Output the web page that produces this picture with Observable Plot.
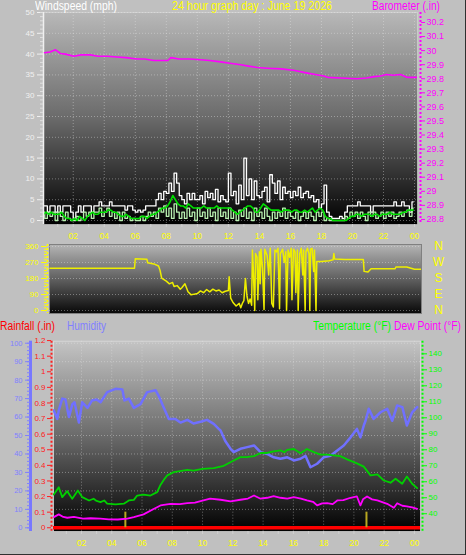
<!DOCTYPE html>
<html><head><meta charset="utf-8">
<script src="https://cdn.jsdelivr.net/npm/d3@7"></script>
<script src="https://cdn.jsdelivr.net/npm/@observablehq/plot@0.6"></script>
<style>
body{margin:0;background:#c0c0c0;}
#root{position:relative;width:466px;height:555px;overflow:hidden;background:#c0c0c0;font-family:"Liberation Sans",Arial,sans-serif;box-shadow:inset -1px -1px 0 #303030;}
.lbl{position:absolute;font-size:12px;line-height:12px;white-space:nowrap;transform-origin:0 0;}
</style></head><body><div id="root"></div>
<script>
// ---------------- DATA ----------------
const hourTicks = [2,4,6,8,10,12,14,16,18,20,22,24];
const hourLabels = ["02","04","06","08","10","12","14","16","18","20","22","00"];
const windTicks = [0,5,10,15,20,25,30,35,40,45,50];
const baroTicks = [28.8,28.9,29,29.1,29.2,29.3,29.4,29.5,29.6,29.7,29.8,29.9,30,30.1,30.2];
const dirTicks = [0,90,180,270,360];
const compassLabels = ["N","E","S","W","N"];
const humTicks = [0,10,20,30,40,50,60,70,80,90,100];
const rainTicks = [0,0.1,0.2,0.3,0.4,0.5,0.6,0.7,0.8,0.9,1,1.1,1.2];
const tempTicks = [40,50,60,70,80,90,100,110,120,130,140];

// wind, one value per 10 minutes (mph)
const windGust = [
3.5,3.5,2,3.5,3.5,2, 3.5,2,3.5,3.5,3.5,2, 0.5,2,3.5,2,3.5,3.5, 3.5,2,3.5,3.5,4.5,3.5,
3.5,3.5,4.5,3.5,3.5,3.5, 3.5,3.5,2.5,3.5,3.5,2.5, 2,2.5,2,2.5,3.5,3.5, 3.5,3.5,5,6.5,5,7,
6.5,9,7,11.4,9,6, 5,4,6.5,5,6.5,5, 5,6,4,7,5.5,6.5, 5,7.5,4.5,6,5,4.5,
11.4,6,7,4,8.5,5, 15,6,10,5,9.5,6, 5.5,7,8,4.5,11,9, 6.5,9.5,5,8,6.5,7,
5.5,7,6,8,5.5,6.5, 7,5.5,6,4.5,5,3, 4,8.5,2,1,0.5,0.5, 0.5,1,0.5,2,3.5,3.5,
3.5,3.5,4.5,3.5,3.5,3.5, 3.5,2,3.5,3.5,3.5,3.5, 3.5,3.5,3.5,3.5,4.5,3.5, 3.5,4.5,3.5,3.5,2,4.5];
const windSpeed = [
2,0.5,2,1,2,0, 2,1,0,2,0.5,0, 0,1,0,0.5,2,1, 2,0.5,2,2,3,1,
2,3,1,2,0.5,2, 0,2,0.5,1,0,0.5, 0,0,1,0,1,2, 1,2,0.5,3,2,3.5,
1,3,0.5,4,2,0.5, 2,0.5,3,1,2,0, 3,1,2,0.5,3,1, 2,0,3,1,2,0.5,
3,0.5,2,0,2.5,1, 3,0.5,2,0,3,1, 2,0.5,3,1,0,2, 0.5,2,1,3,0.5,2,
1,0.5,2,0,1,2, 0.5,2,1,0,2,1, 2,0,0.5,0,0,0, 0,0,0,1,0.5,2,
1,2,0.5,2,1,0, 2,1,2,0.5,1,2, 0.5,2,1,2,0.5,1, 2,1,2,2.5,1,3];
const windAvg = [
1.5,2,1.5,2,1.5,1.5, 1.5,2,1,0.5,0.5,0, 0.5,0,1,0.5,0,1, 1.5,2,1.5,1.5,2,2,
2,2.5,2.5,2,2,1.5, 1,1,1.5,1,0.5,0.5, 0.5,0.5,1,1,0.5,1, 1.5,1.5,2,2.5,3,3,
3.5,4.5,6,5,4,3.5, 3.5,3,4,3.5,3,3, 3,3,3.5,3,3,3, 3,3.5,3,3,3,3,
3,2.5,2,1.5,2,2.5, 3,3.5,3.5,3,2,2, 3,4,3.5,3,2.5,2.5, 2.5,2.5,2,2.5,2.5,2.5,
2,2.5,2.5,2,2,2.5, 2,2.5,3,2,2.5,3, 2.5,1,0.5,0.5,0,0, 0,0,0,0,0.5,1,
1,1.5,1.5,1,1.5,1.5, 1.5,1,1.5,1.5,1,1.5, 1.5,1.5,2,1.5,1.5,1.5, 1.5,2,2,2.5,2.5,2.5];

// barometer [hour, inHg]
const barometer = [[0.15,29.985],[0.5,29.99],[0.86,30.006],[1.17,29.98],[1.5,29.975],[2.04,29.96],[2.5,29.97],[3.1,29.97],[3.6,29.96],[4.2,29.96],[4.8,29.955],[5.4,29.95],[6.1,29.94],[6.6,29.94],[7.2,29.93],[7.8,29.93],[8.1,29.93],[8.3,29.95],[8.8,29.94],[9.5,29.94],[10.2,29.935],[10.8,29.93],[11.5,29.92],[12.1,29.91],[12.8,29.9],[13.3,29.89],[13.86,29.88],[14.5,29.875],[15.4,29.87],[16.2,29.86],[17.1,29.84],[17.6,29.83],[18.15,29.82],[18.4,29.81],[19.2,29.805],[20.3,29.8],[20.9,29.805],[21.4,29.815],[21.8,29.82],[22.2,29.83],[22.6,29.825],[23.1,29.83],[23.5,29.81],[23.8,29.81],[24.15,29.81]];

// wind direction [hour, degrees]
const windDir = [[0.5,238],[5.95,238],[6.0,291],[6.75,288],[6.8,268],[7.2,262],[7.5,250],[7.6,225],[7.7,182],[8.0,165],[8.2,150],[8.4,158],[8.5,135],[8.7,140],[8.9,120],[9.0,128],[9.2,150],[9.4,105],[9.6,88],[9.8,92],[10.0,95],[10.2,110],[10.4,100],[10.6,118],[10.8,105],[11.0,120],[11.2,110],[11.4,115],[11.6,100],[11.8,108],[12.0,112],[12.05,190],[12.15,70],[12.3,45],[12.5,25],[12.7,40],[12.8,15],[12.9,40],[13.0,55],[13.1,180],[13.2,80],[13.3,40],[13.4,65],[13.5,30],[13.55,340],[13.6,250],[13.7,0],[13.75,320],[13.85,300],[13.9,60],[14.0,330],[14.05,150],[14.1,345],[14.2,240],[14.3,5],[14.35,345],[14.5,310],[14.6,200],[14.7,350],[14.8,40],[14.9,20],[15.0,340],[15.1,330],[15.2,350],[15.3,10],[15.35,320],[15.5,345],[15.6,270],[15.7,330],[15.75,0],[15.85,340],[15.95,300],[16.05,350],[16.1,60],[16.2,345],[16.3,330],[16.35,100],[16.45,340],[16.5,0],[16.6,320],[16.7,350],[16.8,200],[16.85,340],[16.95,0],[17.0,330],[17.1,350],[17.2,320],[17.25,0],[17.3,345],[17.4,350],[17.5,220],[17.55,340],[17.65,0],[17.7,275],[18.0,275],[18.5,280],[18.75,285],[18.8,320],[18.85,290],[19.5,287],[20.0,287],[20.7,287],[20.75,220],[21.0,216],[21.2,235],[22.0,235],[22.75,235],[22.8,245],[23.5,245],[24.0,232],[24.4,232]];

// humidity [hour, %]
const humidity = [[0.17,63.6],[0.4,59],[0.5,63.6],[0.73,70],[0.94,69.5],[1.17,60],[1.4,67],[1.54,68],[1.83,57],[2.05,68],[2.4,65],[2.7,69],[3.0,69.5],[3.26,68],[3.7,73.5],[4.25,75.3],[4.7,75],[4.84,69],[5.13,70],[5.46,65],[5.9,67],[6.34,73.5],[6.9,74.5],[7.1,71.5],[7.44,65],[7.77,59],[8.2,59],[8.54,57],[9.0,58.5],[9.4,56.5],[9.87,57.5],[10.3,58.5],[10.74,56.3],[11.07,53.6],[11.19,52.7],[11.5,47],[11.85,42.8],[12.06,41],[12.5,42.8],[12.95,43.7],[13.4,44.6],[13.83,41],[14.27,40],[14.7,38.2],[15.15,37.4],[15.6,38.2],[16.03,36.5],[16.47,37.4],[16.8,39],[17.13,32.8],[17.57,34.7],[18.0,38.2],[18.45,39],[18.9,41.9],[19.33,44.6],[19.78,49],[20.2,53.6],[20.43,49],[20.65,55.4],[20.77,58],[20.98,64.5],[21.3,59],[21.76,62.6],[22.2,64.5],[22.53,58],[22.86,66.3],[23.2,65.4],[23.5,55.4],[23.85,62.6],[24.18,65.4]];

// temperature [hour, F]
const temperature = [[0.17,52],[0.5,56.6],[0.73,50.4],[1.06,54.1],[1.39,49.4],[1.76,54.6],[2.05,50.4],[2.5,48.3],[2.8,49.4],[3.0,48],[3.26,47.3],[3.5,48.3],[3.7,46.3],[4.25,45.8],[4.8,46.3],[5.13,48.3],[5.46,48.7],[5.68,51.4],[6.1,52],[6.56,51.4],[7.0,53.5],[7.22,58],[7.5,62],[7.67,64],[8.1,66],[8.99,67.5],[9.4,67],[10.0,68],[10.74,68.5],[11.4,70],[12.06,73.3],[12.5,75.4],[13.0,75.5],[13.4,76],[13.83,78],[14.27,78],[14.7,79],[15.15,79.6],[15.4,78.5],[15.6,80],[16.03,80.5],[16.47,77.8],[16.9,80.5],[17.35,78.5],[17.8,77],[18.2,77],[18.67,76.5],[19.1,76],[19.55,74],[20.2,71.5],[20.65,69.5],[21.1,64],[21.55,64.6],[21.98,60.8],[22.42,59.4],[22.75,61.9],[23.19,58.75],[23.5,63.3],[23.85,58.75],[24.18,56]];

// dew point [hour, F]
const dewPoint = [[0.17,37.9],[0.5,39.6],[0.8,38],[1.06,37.5],[1.5,38],[2.1,36.9],[2.6,37.2],[3.26,36.9],[3.8,36.5],[4.4,36.4],[5.03,36.9],[5.46,37.9],[6.1,39.6],[6.8,43.1],[7.22,45.2],[7.88,46.2],[8.5,46],[8.99,46.6],[9.5,47],[9.87,47.9],[10.5,49.4],[11.19,48.75],[11.85,47.7],[12.5,48.75],[13.0,49.5],[13.4,51.4],[13.8,49.5],[14.27,50],[14.7,51],[15.15,50],[15.6,49.5],[16.03,50.4],[16.5,49.5],[16.9,48.3],[17.3,47.5],[17.57,45.2],[17.9,46.5],[18.23,46.6],[18.6,46],[18.9,48.3],[19.3,48.5],[19.78,50],[20.2,50.8],[20.43,45.2],[20.6,49],[20.87,50.8],[21.2,49],[21.55,48.3],[22.2,46.2],[22.64,43.75],[22.86,46.6],[23.2,45],[23.5,44.6],[23.85,44],[24.18,43.1]];

// rainfall total for the day [hour, in] and rain events [hour, in]
const rainfall = [[0.15,0],[24.4,0]];
const rainEvents = [[4.9,0.1],[20.83,0.1]];

// ---------------- LAYOUT ----------------
const FONT = "'Liberation Sans', Arial, sans-serif";
const root = document.getElementById("root");
const W = 466;
const windData = windGust.map((g, i) => ({h: i / 6 + 1 / 12, gust: g, spd: windSpeed[i], avg: windAvg[i]}));
const fmt1 = d => String(+(+d).toFixed(1));
const hourFmt = h => hourLabels[hourTicks.indexOf(h)];
const hourMinor = d3.range(1, 25);
const gridStyle = {stroke: "#e8e8e8", strokeOpacity: 0.4, strokeDasharray: "1,2"};

function place(svg, top) {
  svg.style.position = "absolute";
  svg.style.left = "0px";
  svg.style.top = top + "px";
  svg.style.background = "transparent";
  svg.style.overflow = "visible";
  root.appendChild(svg);
  return svg;
}
function addGradient(svg, id, stops) {
  const ns = "http://www.w3.org/2000/svg";
  const defs = document.createElementNS(ns, "defs");
  const lg = document.createElementNS(ns, "linearGradient");
  lg.setAttribute("id", id);
  lg.setAttribute("x1", "0"); lg.setAttribute("y1", "0");
  lg.setAttribute("x2", "0"); lg.setAttribute("y2", "1");
  for (const [o, c] of stops) {
    const s = document.createElementNS(ns, "stop");
    s.setAttribute("offset", o);
    s.setAttribute("stop-color", c);
    lg.appendChild(s);
  }
  defs.appendChild(lg);
  svg.insertBefore(defs, svg.firstChild);
}
const base = {width: W, style: {background: "transparent", fontFamily: FONT, overflow: "visible"}};

// ---- Top panel: windspeed + barometer ----
const topDims = {height: 245, marginTop: 12, marginBottom: 21, marginLeft: 43, marginRight: 49};
const xTop = [0.084, 24.19];
const windDom = [-0.96, 50];
const baroDom = [28.764, 30.271];

const top1 = Plot.plot({...base, ...topDims,
  x: {domain: xTop, axis: null}, y: {domain: windDom, axis: null},
  marks: [
    Plot.frame({fill: "url(#gTop)", stroke: "#d8d8d8", strokeOpacity: 0.6}),
    Plot.gridY({ticks: windTicks, ...gridStyle}),
    Plot.gridX({ticks: hourTicks, ...gridStyle}),
    Plot.lineY(windData, {x: "h", y: "gust", stroke: "#ffffff", strokeWidth: 1.3, curve: "step", clip: true}),
    Plot.lineY(windData, {x: "h", y: "spd", stroke: "#b8f0b0", strokeWidth: 1.3, curve: "step", clip: true}),
    Plot.lineY(windData, {x: "h", y: "avg", stroke: "#00e000", strokeWidth: 1.6, clip: true}),
    Plot.ruleX([xTop[0]], {stroke: "#f0f0f0", strokeWidth: 1.5}),
    Plot.axisY({ticks: windTicks, tickSize: 6, tickPadding: 3, color: "#f0f0f0", fontSize: 8, label: null}),
    Plot.axisY({ticks: d3.range(0, 51), tickSize: 3, fill: "none", stroke: "#e0e0e0", label: null}),
    Plot.axisX({ticks: hourTicks, tickFormat: hourFmt, tickSize: 0, tickPadding: 8, color: "#ffff00", fontSize: 8.5, label: null}),
    Plot.axisX({ticks: hourMinor, tickSize: 3, fill: "none", stroke: "#d0d0d0", label: null})
  ]});
addGradient(top1, "gTop", [["0%", "#b8b8b8"], ["50%", "#6a6a6a"], ["100%", "#000000"]]);
place(top1, 0);

const top2 = Plot.plot({...base, ...topDims,
  x: {domain: xTop, axis: null}, y: {domain: baroDom, axis: null},
  marks: [
    Plot.lineY(barometer, {x: d => d[0], y: d => d[1], stroke: "#ff00ff", strokeWidth: 1.6, clip: true}),
    Plot.ruleX([xTop[1]], {dx: 3, stroke: "#ff00ff", strokeWidth: 2, strokeDasharray: "2,2"}),
    Plot.axisY({anchor: "right", dx: 3, ticks: baroTicks, tickFormat: fmt1, tickSize: 4, tickPadding: 2, color: "#ff00ff", fontSize: 9, label: null})
  ]});
place(top2, 0);

// ---- Middle panel: wind direction ----
const midDims = {height: 78, marginTop: 4, marginBottom: 5, marginLeft: 49, marginRight: 45};
const xMid = [0.47, 24.45];
const dirDom = [-16.9, 371.25];
const mid = Plot.plot({...base, ...midDims,
  x: {domain: xMid, axis: null}, y: {domain: dirDom, axis: null},
  marks: [
    Plot.frame({fill: "url(#gMid)", stroke: "#808080"}),
    Plot.gridY({ticks: dirTicks, ...gridStyle}),
    Plot.lineY(windDir, {x: d => d[0], y: d => d[1], stroke: "#eeee00", strokeWidth: 1.5, clip: true}),
    Plot.ruleX([xMid[0]], {dx: -2, stroke: "#ffff00", strokeWidth: 1.5, strokeDasharray: "2,2"}),
    Plot.axisY({dx: -2, ticks: dirTicks, tickSize: 6, tickPadding: 3, color: "#ffff00", fontSize: 8, label: null}),
    Plot.axisY({dx: -2, ticks: d3.range(0, 361, 15), tickSize: 3, fill: "none", stroke: "#ffff00", label: null}),
    Plot.axisY({anchor: "right", ticks: dirTicks, tickFormat: d => compassLabels[dirTicks.indexOf(d)], tickSize: 0, tickPadding: 17, textAnchor: "middle", color: "#ffff00", fontSize: 12, label: null})
  ]});
addGradient(mid, "gMid", [["0%", "#b4b4b4"], ["50%", "#606060"], ["100%", "#080808"]]);
place(mid, 240);

// ---- Bottom panel: humidity, rainfall, temperature, dew point ----
const botDims = {height: 215, marginTop: 5.7, marginBottom: 19, marginLeft: 53, marginRight: 46};
const xBot = [0.152, 24.40];
const humDom = [-2.0, 101.1];
const rainDom = [-0.024, 1.196];
const tempDom = [28.9, 147.9];

const bot1 = Plot.plot({...base, ...botDims,
  x: {domain: xBot, axis: null}, y: {domain: humDom, axis: null},
  marks: [
    Plot.frame({fill: "url(#gBot)", stroke: "#e0e0e0", strokeOpacity: 0.7}),
    Plot.gridY({ticks: humTicks, ...gridStyle}),
    Plot.gridX({ticks: hourTicks, ...gridStyle}),
    Plot.lineY(humidity, {x: d => d[0], y: d => d[1], stroke: "#7070ff", strokeWidth: 2.5, clip: true}),
    Plot.ruleX([xBot[0]], {dx: -23, stroke: "#7878ff", strokeWidth: 3}),
    Plot.axisY({dx: -23, ticks: humTicks, tickSize: 5, tickPadding: 3, color: "#8080ff", fontSize: 7.5, label: null}),
    Plot.axisY({dx: -23, ticks: d3.range(0, 101, 2), tickSize: 3, fill: "none", stroke: "#8080ff", label: null}),
    Plot.axisX({ticks: hourTicks, tickFormat: hourFmt, tickSize: 0, tickPadding: 8, color: "#ffff00", fontSize: 8.5, label: null}),
    Plot.axisX({ticks: hourMinor, tickSize: 3, fill: "none", stroke: "#d0d0d0", label: null})
  ]});
addGradient(bot1, "gBot", [["0%", "#c4c4c4"], ["50%", "#6a6a6a"], ["100%", "#000000"]]);
place(bot1, 335);

const bot2 = Plot.plot({...base, ...botDims,
  x: {domain: xBot, axis: null}, y: {domain: rainDom, axis: null},
  marks: [
    Plot.lineY(rainfall, {x: d => d[0], y: d => d[1], stroke: "#ff0000", strokeWidth: 3.5, clip: true}),
    Plot.ruleX(rainEvents, {x: d => d[0], y1: 0, y2: d => d[1], stroke: "#b8a820", strokeWidth: 2}),
    Plot.ruleX([xBot[0]], {dx: -2, stroke: "#ff2020", strokeWidth: 2, strokeDasharray: "2,2"}),
    Plot.axisY({dx: -2, ticks: rainTicks, tickFormat: fmt1, tickSize: 4, tickPadding: 2, color: "#ff2020", fontSize: 8, label: null})
  ]});
place(bot2, 335);

const bot3 = Plot.plot({...base, ...botDims,
  x: {domain: xBot, axis: null}, y: {domain: tempDom, axis: null},
  marks: [
    Plot.lineY(temperature, {x: d => d[0], y: d => d[1], stroke: "#00d000", strokeWidth: 1.8, clip: true}),
    Plot.lineY(dewPoint, {x: d => d[0], y: d => d[1], stroke: "#ff00ff", strokeWidth: 1.8, clip: true}),
    Plot.ruleX([xBot[1]], {dx: 2, stroke: "#00ff00", strokeWidth: 2, strokeDasharray: "2,2"}),
    Plot.axisY({anchor: "right", dx: 2, ticks: tempTicks, tickSize: 4, tickPadding: 2, color: "#00ff00", fontSize: 8, label: null})
  ]});
place(bot3, 335);

// ---- Titles ----
function label(text, left, top, color, width) {
  const d = document.createElement("div");
  d.className = "lbl";
  d.textContent = text;
  d.style.left = left + "px";
  d.style.top = top + "px";
  d.style.color = color;
  root.appendChild(d);
  const w = d.getBoundingClientRect().width;
  d.style.transform = `scaleX(${width / w})`;
}
label("Windspeed (mph)", 35, 0, "#ffffff", 82);
label("24 hour graph day : June 19 2026", 172, 0, "#ffff00", 160);
label("Barometer (.in)", 372, 0, "#ff00ff", 68);
label("Rainfall (.in)", 0, 320, "#ff0000", 55);
label("Humidity", 67, 320, "#8080ff", 39);
label("Temperature (°F)", 313, 320, "#00ff00", 78);
label("Dew Point (°F)", 394, 320, "#ff00ff", 67);
</script></body></html>
